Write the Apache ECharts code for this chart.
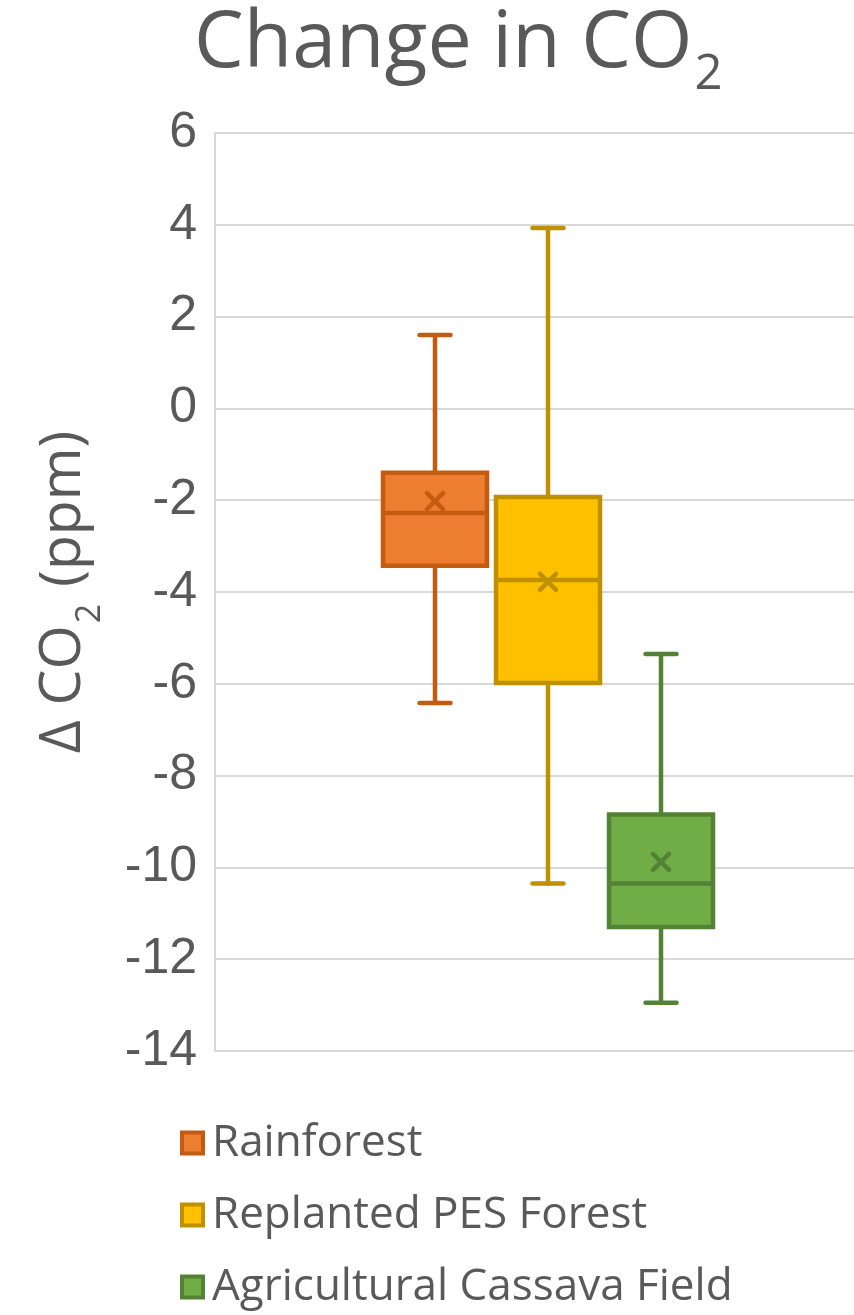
<!DOCTYPE html>
<html>
<head>
<meta charset="utf-8">
<script src="https://cdn.jsdelivr.net/npm/echarts@6/dist/echarts.min.js"></script>
<style>
html,body{margin:0;padding:0;background:#ffffff;overflow:hidden;width:854px;height:1315px;}
/* the plot area of the original runs past the right edge of the picture, so the chart is cropped */
#chart{width:881px;height:1315px;}
</style>
</head>
<body>
<div id="chart"></div>
<script>
// ---- data ----
const groupLabel = ['Change in CO₂'];
const categories = ['Rainforest', 'Replanted PES Forest', 'Agricultural Cassava Field'];
const minValues    = [-6.42, -10.35, -12.95];
const q1Values     = [-3.43, -5.98, -11.30];
const medianValues = [-2.28, -3.74, -10.35];
const q3Values     = [-1.40, -1.93, -8.85];
const maxValues    = [1.60, 3.93, -5.35];
const meanValues   = [-2.02, -3.78, -9.88];
const yMin = -14, yMax = 6, yInterval = 2;

// ---- styles ----
const FILL = ['#ED7D31', '#FFC000', '#70AD47'];
const EDGE = ['#C55A11', '#BF9000', '#548235'];
const TEXT = '#595959';
const BOX_W = 104, BOX_GAP = 9, CAP_W = 31, MEAN_HALF = 8, LW = 4.5;

function renderBox(params, api) {
  const i = params.seriesIndex;
  const n = categories.length;
  const xc = api.coord([api.value(0), 0])[0] + (i - (n - 1) / 2) * (BOX_W + BOX_GAP);
  const py = k => api.coord([api.value(0), api.value(k)])[1];
  const yLo = py(1), yQ1 = py(2), yMed = py(3), yQ3 = py(4), yHi = py(5), yMean = py(6);
  const st = { stroke: EDGE[i], lineWidth: LW, lineCap: 'round' };
  const line = (x1, y1, x2, y2) => ({ type: 'line', shape: { x1, y1, x2, y2 }, style: st });
  return {
    type: 'group',
    children: [
      line(xc, yHi, xc, yQ3),
      line(xc, yQ1, xc, yLo),
      line(xc - CAP_W / 2, yHi, xc + CAP_W / 2, yHi),
      line(xc - CAP_W / 2, yLo, xc + CAP_W / 2, yLo),
      { type: 'rect', shape: { x: xc - BOX_W / 2, y: yQ3, width: BOX_W, height: yQ1 - yQ3 },
        style: { fill: FILL[i], stroke: EDGE[i], lineWidth: LW } },
      { type: 'line', shape: { x1: xc - BOX_W / 2, y1: yMed, x2: xc + BOX_W / 2, y2: yMed },
        style: { stroke: EDGE[i], lineWidth: LW } },
      line(xc - MEAN_HALF, yMean - MEAN_HALF, xc + MEAN_HALF, yMean + MEAN_HALF),
      line(xc - MEAN_HALF, yMean + MEAN_HALF, xc + MEAN_HALF, yMean - MEAN_HALF)
    ]
  };
}

const chart = echarts.init(document.getElementById('chart'), null, { renderer: 'canvas' });

const series = categories.map((name, i) => ({
  name: name,
  type: 'custom',
  renderItem: renderBox,
  itemStyle: { color: FILL[i], borderColor: EDGE[i] },
  encode: { x: 0, y: [1, 2, 3, 4, 5, 6] },
  data: [[0, minValues[i], q1Values[i], medianValues[i], q3Values[i], maxValues[i], meanValues[i]]],
  animation: false
}));

chart.setOption({
  backgroundColor: '#ffffff',
  animation: false,
  title: {
    text: '{a|Change in CO}{s|2}',
    left: 194,
    top: 5,
    padding: 0,
    textStyle: {
      fontWeight: 'normal',
      rich: {
        a: { fontFamily: 'Open Sans', fontWeight: 'normal', fontSize: 79, lineHeight: 80, color: TEXT, verticalAlign: 'top' },
        s: { fontFamily: 'Open Sans', fontWeight: 'normal', fontSize: 49, lineHeight: 20, color: TEXT,
             verticalAlign: 'top', padding: [46, 0, 0, 2] }
      }
    }
  },
  grid: { left: 215, right: 0, top: 133, bottom: 264, containLabel: false },
  xAxis: {
    type: 'category',
    data: groupLabel,
    axisLine: { show: false },
    axisTick: { show: false },
    axisLabel: { show: false },
    splitLine: { show: false }
  },
  yAxis: {
    type: 'value',
    min: yMin,
    max: yMax,
    interval: yInterval,
    name: '{a|Δ CO}{s|2}{a| (ppm)}',
    nameLocation: 'middle',
    nameGap: 150,
    nameTextStyle: {
      verticalAlign: 'middle',
      rich: {
        a: { fontFamily: 'Open Sans', fontSize: 57, lineHeight: 60, color: TEXT, verticalAlign: 'top' },
        s: { fontFamily: 'Open Sans', fontSize: 34, lineHeight: 15, color: TEXT, verticalAlign: 'top', padding: [38, 2, 0, 2] }
      }
    },
    axisLine: { show: true, lineStyle: { color: '#D9D9D9', width: 2 } },
    axisTick: { show: false },
    axisLabel: { fontFamily: 'Liberation Sans', fontSize: 50, color: TEXT, margin: 18 },
    splitLine: { show: true, lineStyle: { color: '#D9D9D9', width: 2 } }
  },
  legend: {
    orient: 'vertical',
    left: 180,
    top: 1119,
    padding: 0,
    itemWidth: 21,
    itemHeight: 21,
    itemGap: 24,
    icon: 'rect',
    textStyle: { fontFamily: 'Open Sans', fontSize: 44, lineHeight: 48, color: TEXT, padding: [0, 0, 0, 4] },
    data: categories.map((name, i) => ({
      name: name,
      itemStyle: { color: FILL[i], borderColor: EDGE[i], borderWidth: 4 }
    }))
  },
  series: series
});
</script>
</body>
</html>
